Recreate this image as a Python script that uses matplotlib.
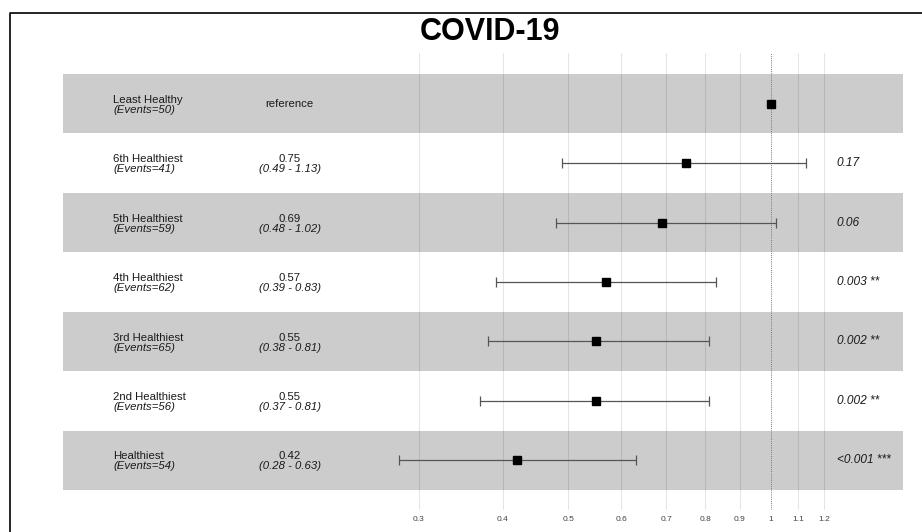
import numpy as np
import matplotlib.pyplot as plt
from matplotlib.lines import Line2D
import matplotlib.transforms as mtransforms

# data
groups = ["Least Healthy", "6th Healthiest", "5th Healthiest", "4th Healthiest",
          "3rd Healthiest", "2nd Healthiest", "Healthiest"]
events = [50, 41, 59, 62, 65, 56, 54]
hr = [1.0, 0.75, 0.69, 0.57, 0.55, 0.55, 0.42]
ci_low = [np.nan, 0.49, 0.48, 0.39, 0.38, 0.37, 0.28]
ci_high = [np.nan, 1.13, 1.02, 0.83, 0.81, 0.81, 0.63]
p_text = ["", "0.17", "0.06", "0.003 **", "0.002 **", "0.002 **", "<0.001 ***"]
ticks = [0.3, 0.4, 0.5, 0.6, 0.7, 0.8, 0.9, 1.0, 1.1, 1.2]
tick_labels = ["0.3", "0.4", "0.5", "0.6", "0.7", "0.8", "0.9", "1", "1.1", "1.2"]

plt.rcParams['font.family'] = ['Liberation Sans', 'DejaVu Sans']

fig = plt.figure(figsize=(9.22, 5.32), dpi=100)
W, H = 922, 532
ax = fig.add_axes([63 / W, (H - 510) / H, 840 / W, 457 / H])

n = len(groups)
ypos = np.arange(1, n + 1)

# alternating row bands
for i, y in enumerate(ypos):
    if i % 2 == 0:
        ax.axhspan(y - 0.5, y + 0.5, color="#cccccc", lw=0, zorder=0)

ax.set_xscale("log")
ax.set_xlim(0.0887, 1.574)
ax.set_ylim(7.837, 0.147)

# grid lines drawn semi transparent so they darken over the bands
for t in ticks:
    if t == 1.0:
        continue
    ax.axvline(t, color="black", alpha=0.1, lw=0.8, zorder=1)
ax.axvline(1.0, color="#777777", lw=0.7, ls=(0, (1, 1.2)), zorder=2)

# confidence intervals and point estimates
for y, est, lo, hi in zip(ypos, hr, ci_low, ci_high):
    if not np.isnan(lo):
        ax.errorbar(est, y, xerr=[[est - lo], [hi - est]], fmt="none",
                    ecolor="#555555", elinewidth=0.9, capsize=3.5, capthick=0.9, zorder=3)
    ax.plot(est, y, marker="s", ms=6.3, color="black", ls="none", zorder=4)

# table text
fs = 8.2
dy = 0.02
tc = "#1a1a1a"
trans = mtransforms.blended_transform_factory(ax.transAxes, ax.transData)
for y, g, ev, est, lo, hi, p in zip(ypos, groups, events, hr, ci_low, ci_high, p_text):
    ax.text(0.0595, y + dy, g, transform=trans, fontsize=fs, va="bottom", ha="left", color=tc)
    ax.text(0.0595, y + dy, f"(Events={ev})", transform=trans, fontsize=fs,
            style="italic", va="top", ha="left", color=tc)
    if np.isnan(lo):
        ax.text(0.270, y, "reference", transform=trans, fontsize=fs, va="center",
                ha="center", color=tc)
    else:
        ax.text(0.270, y + dy, f"{est:.2f}", transform=trans, fontsize=fs,
                va="bottom", ha="center", color=tc)
        ax.text(0.270, y + dy, f"({lo:.2f} - {hi:.2f})", transform=trans, fontsize=fs,
                style="italic", va="top", ha="center", color=tc)
    if p:
        ax.text(0.921, y, p, transform=trans, fontsize=8.6, style="italic",
                va="center", ha="left", color=tc)

ax.set_xticks(ticks)
ax.set_xticklabels(tick_labels)
ax.xaxis.set_minor_locator(plt.NullLocator())
ax.tick_params(axis="x", length=0, labelsize=6, labelcolor="#444444", pad=4)
ax.set_yticks([])
for s in ax.spines.values():
    s.set_visible(False)

# title
fig.text(490 / W, 1 - 32 / H, "COVID-19", fontsize=22, fontweight="bold",
         ha="center", va="center")

# frame of the screenshot (left and top edges)
fig.add_artist(Line2D([10 / W, 10 / W, 1.0], [0.0, 1 - 13 / H, 1 - 13 / H],
                      transform=fig.transFigure, color="black", lw=1.2))

fig.savefig("out.png", dpi=100)
